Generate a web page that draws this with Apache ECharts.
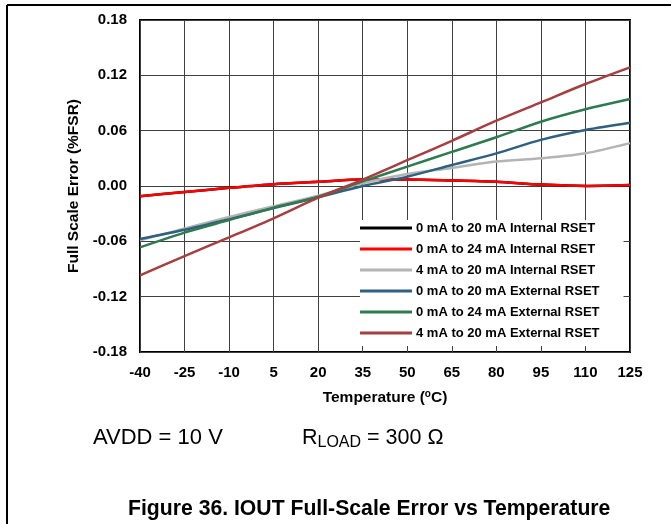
<!DOCTYPE html>
<html>
<head>
<meta charset="utf-8">
<script src="https://cdn.jsdelivr.net/npm/echarts@6/dist/echarts.min.js"></script>
<style>
html,body{margin:0;padding:0;background:#fff;}
#chart{width:671px;height:524px;}
</style>
</head>
<body>
<div id="chart"></div>
<script>
const temperatures = ['-40','-25','-10','5','20','35','50','65','80','95','110','125'];
const yTicks = [-0.18, -0.12, -0.06, 0, 0.06, 0.12, 0.18];
const int0to20 = [-0.011, -0.0065, -0.002, 0.002, 0.0045, 0.007, 0.007, 0.006, 0.0045, 0.0015, 0.0, 0.001];
const int0to24 = [-0.011, -0.0065, -0.002, 0.002, 0.0045, 0.007, 0.007, 0.006, 0.0045, 0.0015, 0.0, 0.001];
const int4to20 = [-0.059, -0.046, -0.0335, -0.022, -0.0105, 0.003, 0.013, 0.0195, 0.0265, 0.030, 0.0355, 0.0465];
const ext0to20 = [-0.0575, -0.0475, -0.036, -0.024, -0.0123, 0.0, 0.0101, 0.0228, 0.0354, 0.050, 0.0607, 0.0686];
const ext0to24 = [-0.0665, -0.0505, -0.037, -0.0235, -0.0116, 0.005, 0.021, 0.037, 0.0528, 0.0697, 0.0832, 0.0943];
const ext4to20 = [-0.097, -0.076, -0.0557, -0.035, -0.0127, 0.007, 0.028, 0.049, 0.0708, 0.0907, 0.1106, 0.1287];
const seriesNames = ['0 mA to 20 mA Internal RSET','0 mA to 24 mA Internal RSET','4 mA to 20 mA Internal RSET','0 mA to 20 mA External RSET','0 mA to 24 mA External RSET','4 mA to 20 mA External RSET'];
const seriesData = [int0to20, int0to24, int4to20, ext0to20, ext0to24, ext4to20];
const seriesColors = ['#000000','#ff0000','#b4b4b4','#2f607f','#2f7a50','#a63f40'];

const FONT = 'Liberation Sans, Arial, Helvetica, sans-serif';
const chart = echarts.init(document.getElementById('chart'), null, {renderer:'canvas'});
chart.setOption({
  animation: false,
  backgroundColor: '#fff',
  grid: {left:140, right:41, top:20, bottom:172, show:true, borderColor:'#000', borderWidth:2, backgroundColor:'#fff'},
  xAxis: {
    type:'category', data: temperatures, boundaryGap:false,
    axisLine:{show:false}, axisTick:{show:false},
    axisLabel:{interval:0, margin:13, color:'#000', fontFamily:FONT, fontWeight:'bold', fontSize:15},
    splitLine:{show:true, interval:0, lineStyle:{color:'#404040', width:1}},
    name:'Temperature ({sup|o}C)', nameLocation:'middle', nameGap:37,
    nameTextStyle:{color:'#000', fontFamily:FONT, fontWeight:'bold', fontSize:15.5,
      rich:{sup:{fontSize:10, fontWeight:'bold', fontFamily:FONT, verticalAlign:'top', padding:[0,0,7,0]}}}
  },
  yAxis: {
    type:'value', min:-0.18, max:0.18, interval:0.06,
    axisLine:{show:false}, axisTick:{show:false},
    axisLabel:{margin:13, color:'#000', fontFamily:FONT, fontWeight:'bold', fontSize:15,
      formatter: v => (Math.abs(v) < 1e-9 ? 0 : v).toFixed(2)},
    splitLine:{show:true, lineStyle:{color:'#404040', width:1}},
    name:'Full Scale Error (%FSR)', nameLocation:'middle', nameGap:41,
    nameTextStyle:{color:'#000', fontFamily:FONT, fontWeight:'bold', fontSize:15.5}
  },
  legend: {
    orient:'vertical', left:360, top:220, data: seriesNames,
    icon:'rect', itemWidth:52, itemHeight:3, itemGap:7,
    backgroundColor:'#fff', padding:[1,24,6,0],
    textStyle:{color:'#000', fontFamily:FONT, fontWeight:'bold', fontSize:13, lineHeight:14, padding:[0,0,0,-1]}
  },
  series: seriesNames.map((n,i) => ({
    name:n, type:'line', data: seriesData[i], smooth:0.3, symbol:'none',
    lineStyle:{color:seriesColors[i], width:2.5}, itemStyle:{color:seriesColors[i]}
  })),
  graphic: [
    {type:'line', shape:{x1:7, y1:5, x2:671, y2:5}, style:{stroke:'#000', lineWidth:2}},
    {type:'line', shape:{x1:7, y1:5, x2:7, y2:524}, style:{stroke:'#000', lineWidth:2}},
    {type:'text', left:93, top:427, style:{text:'AVDD = 10 V', fill:'#000', font:'22px ' + FONT}},
    {type:'text', left:302, top:427, style:{text:'{a|R}{b|LOAD}{a| = 300 Ω}', fill:'#000',
      rich:{a:{fontSize:21.5, fontFamily:FONT, color:'#000'}, b:{fontSize:16, fontFamily:FONT, color:'#000', padding:[9,0,0,0]}}}},
    {type:'text', left:128, top:499, style:{text:'Figure 36. IOUT Full-Scale Error vs Temperature', fill:'#000', font:'bold 21.2px ' + FONT}}
  ]
});
</script>
</body>
</html>
